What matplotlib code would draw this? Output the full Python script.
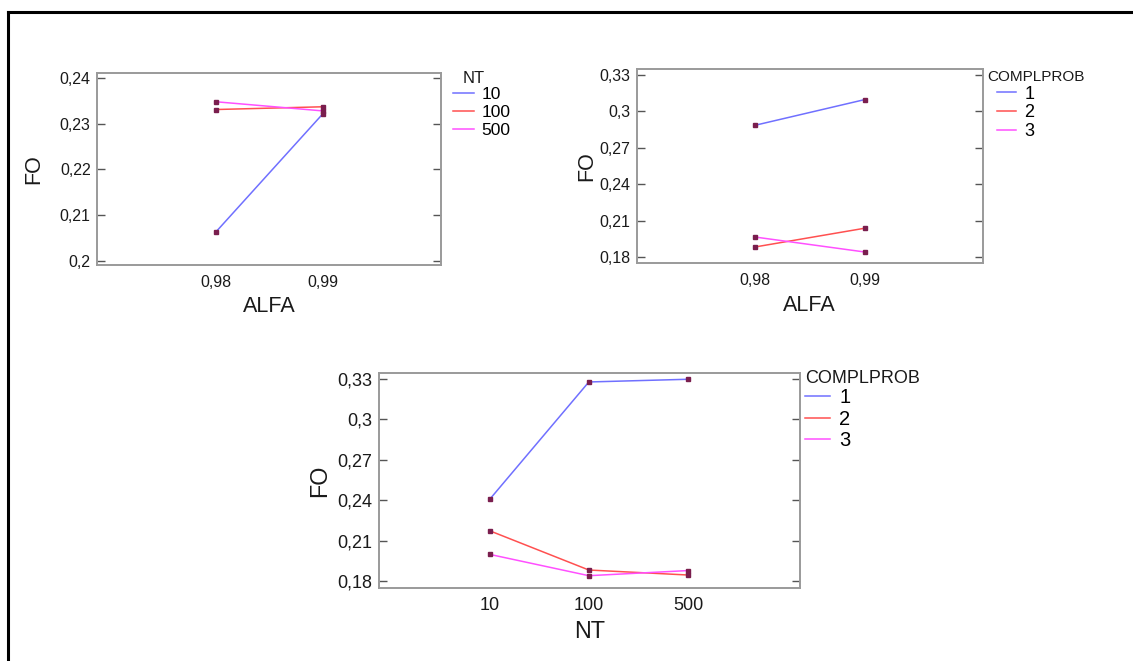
import matplotlib
matplotlib.use("Agg")
import matplotlib.pyplot as plt
from matplotlib.lines import Line2D

plt.rcParams['font.family'] = ['Liberation Sans', 'DejaVu Sans']

# plot 1: FO vs ALFA, one line per NT
alfa_labels = ["0,98", "0,99"]
nt_names = ["10", "100", "500"]
fo_alfa_nt = [
    [0.2063, 0.2321],   # NT 10
    [0.2331, 0.2337],   # NT 100
    [0.2348, 0.2328],   # NT 500
]

# plot 2: FO vs ALFA, one line per COMPLPROB
compl_names = ["1", "2", "3"]
fo_alfa_compl = [
    [0.2886, 0.3097],
    [0.1885, 0.2039],
    [0.1967, 0.1844],
]

# plot 3: FO vs NT, one line per COMPLPROB
nt_labels = ["10", "100", "500"]
fo_nt_compl = [
    [0.2408, 0.3278, 0.3298],
    [0.2175, 0.1884, 0.1847],
    [0.2000, 0.1842, 0.1880],
]

line_colors = ["#7070ff", "#ff5050", "#ff50ff"]
marker_color = "#7a1e4e"
frame_color = "#9a9a9a"


def fmt(v):
    return ("%g" % round(v, 4)).replace(".", ",")


def draw(ax, xlabels, series, names, title, yticks, ylim, xlim,
         tick_fs, label_fs, title_fs, leg_fs, xlab, title_xy, leg_xy, hlen,
         lblsp, ylab_x, xlab_y):
    xs = list(range(len(xlabels)))
    for vals, c, n in zip(series, line_colors, names):
        ax.plot(xs, vals, color=c, lw=1.1, label=n, zorder=2)
        ax.plot(xs, vals, ls="none", marker="s", ms=2.6, mfc=marker_color,
                mec=marker_color, zorder=3)
    ax.set_xlim(*xlim)
    ax.set_ylim(*ylim)
    ax.set_xticks(xs)
    ax.set_xticklabels(xlabels)
    ax.set_yticks(yticks)
    ax.set_yticklabels([fmt(v) for v in yticks])
    ax.tick_params(axis="x", length=0, pad=7, labelsize=tick_fs, labelcolor="#1a1a1a")
    ax.tick_params(axis="y", direction="in", length=6, width=1, color="#555555",
                   pad=4.5, labelsize=tick_fs, labelcolor="#1a1a1a",
                   right=True)
    for s in ax.spines.values():
        s.set_color(frame_color)
        s.set_linewidth(1.4)
    ax.set_ylabel("FO", fontsize=label_fs, color="#1a1a1a", va="center")
    ax.set_xlabel(xlab, fontsize=label_fs, color="#1a1a1a", va="center")
    ax.yaxis.set_label_coords(ylab_x, 0.5)
    ax.xaxis.set_label_coords(0.5, xlab_y)
    handles = [Line2D([], [], color=c, lw=1.1) for c in line_colors]
    ax.legend(handles, names, loc="upper left", bbox_to_anchor=leg_xy,
              frameon=False, fontsize=leg_fs, handlelength=hlen,
              handletextpad=0.45, labelspacing=lblsp, borderpad=0,
              borderaxespad=0)
    ax.text(title_xy[0], title_xy[1], title, transform=ax.transAxes,
            fontsize=title_fs, va="center", ha="left", color="#1a1a1a")


fig = plt.figure(figsize=(11.33, 6.61), dpi=100)

ax1 = fig.add_axes([0.0856, 0.5991, 0.3036, 0.2909])
draw(ax1, alfa_labels, fo_alfa_nt, nt_names, "NT",
     [0.20, 0.21, 0.22, 0.23, 0.24], (0.19906, 0.24116), (-1.115, 2.11),
     11.5, 15.5, 12, 12.5, "ALFA", (1.064, 0.972), (1.035, 0.925), 1.2, 0.15,
     -0.185, -0.217)

ax2 = fig.add_axes([0.5620, 0.6017, 0.3054, 0.2939])
draw(ax2, alfa_labels, fo_alfa_compl, compl_names, "COMPLPROB",
     [0.18, 0.21, 0.24, 0.27, 0.30, 0.33], (0.1751, 0.3349), (-1.08, 2.08),
     11.5, 15.5, 11, 13, "ALFA", (1.014, 0.960), (1.040, 0.915), 1.1, 0.1,
     -0.145, -0.215)

ax3 = fig.add_axes([0.3342, 0.1109, 0.3719, 0.3243])
draw(ax3, nt_labels, fo_nt_compl, compl_names, "COMPLPROB",
     [0.18, 0.21, 0.24, 0.27, 0.30, 0.33], (0.1753, 0.3342), (-1.12, 3.13),
     13, 16.8, 13, 14.5, "NT", (1.012, 0.977), (1.012, 0.93), 1.25, 0.12,
     -0.139, -0.205)

# outer black border (left and top only)
fig.add_artist(Line2D([0.0075, 0.0075], [0.0, 0.9825], transform=fig.transFigure,
                      color="black", lw=2.2))
fig.add_artist(Line2D([0.0075, 1.0], [0.9825, 0.9825], transform=fig.transFigure,
                      color="black", lw=2.2))

fig.savefig("out.png", dpi=100, facecolor="white")
